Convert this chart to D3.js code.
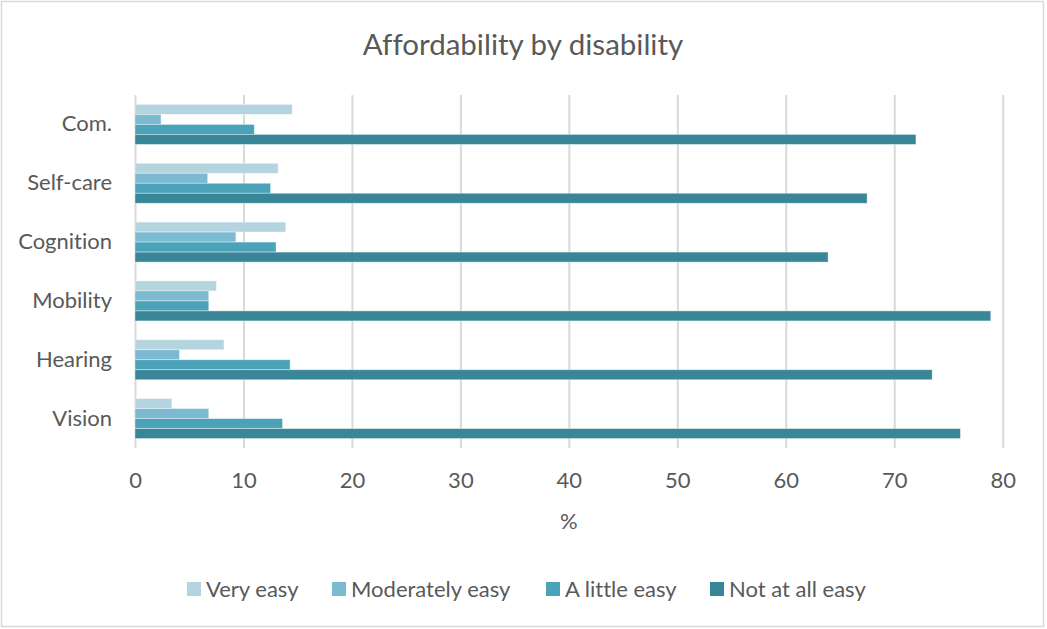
<!DOCTYPE html>
<html>
<head>
<meta charset="utf-8">
<script src="https://cdn.jsdelivr.net/npm/d3@7"></script>
<style>
  body { margin: 0; background: #fff; }
  svg text { font-family: Lato, "Open Sans", sans-serif; fill: #595959; font-variant-ligatures: none; }
</style>
</head>
<body>
<svg id="chart" width="1047" height="629"></svg>
<script>
// categories top to bottom
const categories = ['Com.', 'Self-care', 'Cognition', 'Mobility', 'Hearing', 'Vision'];
const seriesNames = ['Very easy', 'Moderately easy', 'A little easy', 'Not at all easy'];
const seriesColors = ['#b4d5df', '#7bbad0', '#4aa3b9', '#3a8699'];

// percentages per category, in the same order as categories
const veryEasy = [14.5, 13.2, 13.9, 7.5, 8.2, 3.4];
const moderatelyEasy = [2.4, 6.7, 9.3, 6.8, 4.1, 6.8];
const aLittleEasy = [11.0, 12.5, 13.0, 6.8, 14.3, 13.6];
const notAtAllEasy = [72.0, 67.5, 63.9, 78.9, 73.5, 76.1];

const xTicks = [0, 10, 20, 30, 40, 50, 60, 70, 80];

const seriesValues = [veryEasy, moderatelyEasy, aLittleEasy, notAtAllEasy];

const svg = d3.select('#chart');
const plot = {left: 135, right: 1002.7, top: 95, bottom: 448};
const labelSize = 22;

// outer frame
svg.append('rect')
  .attr('x', 1.5).attr('y', 1.5)
  .attr('width', 1042).attr('height', 625)
  .attr('fill', '#fff')
  .attr('stroke', '#d9d9d9')
  .attr('stroke-width', 1.5);

svg.append('text')
  .attr('x', 523).attr('y', 55)
  .attr('text-anchor', 'middle')
  .attr('font-size', 29.5)
  .text('Affordability by disability');

const x = d3.scaleLinear().domain([0, 80]).range([plot.left, plot.right]);
const y = d3.scaleBand()
  .domain(categories)
  .range([plot.top, plot.bottom])
  .paddingInner(0.32)
  .paddingOuter(0.16);
const ySeries = d3.scaleBand().domain(seriesNames).range([0, y.bandwidth()]);

// vertical gridlines + tick labels
const xAxis = svg.append('g')
  .attr('transform', `translate(0,${plot.bottom})`)
  .call(d3.axisBottom(x).tickValues(xTicks).tickSize(-(plot.bottom - plot.top)).tickPadding(24));
xAxis.select('.domain').remove();
xAxis.selectAll('.tick line').attr('stroke', '#d9d9d9').attr('stroke-width', 2);
xAxis.selectAll('.tick text')
  .attr('font-size', labelSize)
  .attr('font-family', 'Lato, "Open Sans", sans-serif')
  .attr('fill', '#595959');

svg.append('text')
  .attr('x', (plot.left + plot.right) / 2).attr('y', 529)
  .attr('text-anchor', 'middle')
  .attr('font-size', labelSize)
  .text('%');

// category labels
const yAxis = svg.append('g')
  .attr('transform', `translate(${plot.left},0)`)
  .call(d3.axisLeft(y).tickSize(0).tickPadding(23));
yAxis.select('.domain').remove();
yAxis.selectAll('.tick text')
  .attr('font-size', labelSize)
  .attr('font-family', 'Lato, "Open Sans", sans-serif')
  .attr('fill', '#595959');

// bars
const rows = [];
categories.forEach((c, i) => {
  seriesNames.forEach((s, j) => {
    rows.push({category: c, series: s, value: seriesValues[j][i], color: seriesColors[j]});
  });
});

svg.append('g')
  .selectAll('rect')
  .data(rows)
  .enter()
  .append('rect')
  .attr('x', x(0))
  .attr('y', (d) => y(d.category) + ySeries(d.series))
  .attr('width', (d) => x(d.value) - x(0))
  .attr('height', ySeries.bandwidth())
  .attr('fill', (d) => d.color)
  .attr('stroke', '#ffffff')
  .attr('stroke-opacity', 0.5)
  .attr('stroke-width', 0.75);

// legend
const legendX = [187, 332, 546, 710];
const legend = svg.append('g')
  .selectAll('g')
  .data(seriesNames)
  .enter()
  .append('g')
  .attr('transform', (d, i) => `translate(${legendX[i]},589)`);

legend.append('rect')
  .attr('x', 0).attr('y', -7)
  .attr('width', 14).attr('height', 14)
  .attr('fill', (d, i) => seriesColors[i]);

legend.append('text')
  .attr('x', 19).attr('y', 8)
  .attr('font-size', labelSize)
  .text((d) => d);
</script>
</body>
</html>
